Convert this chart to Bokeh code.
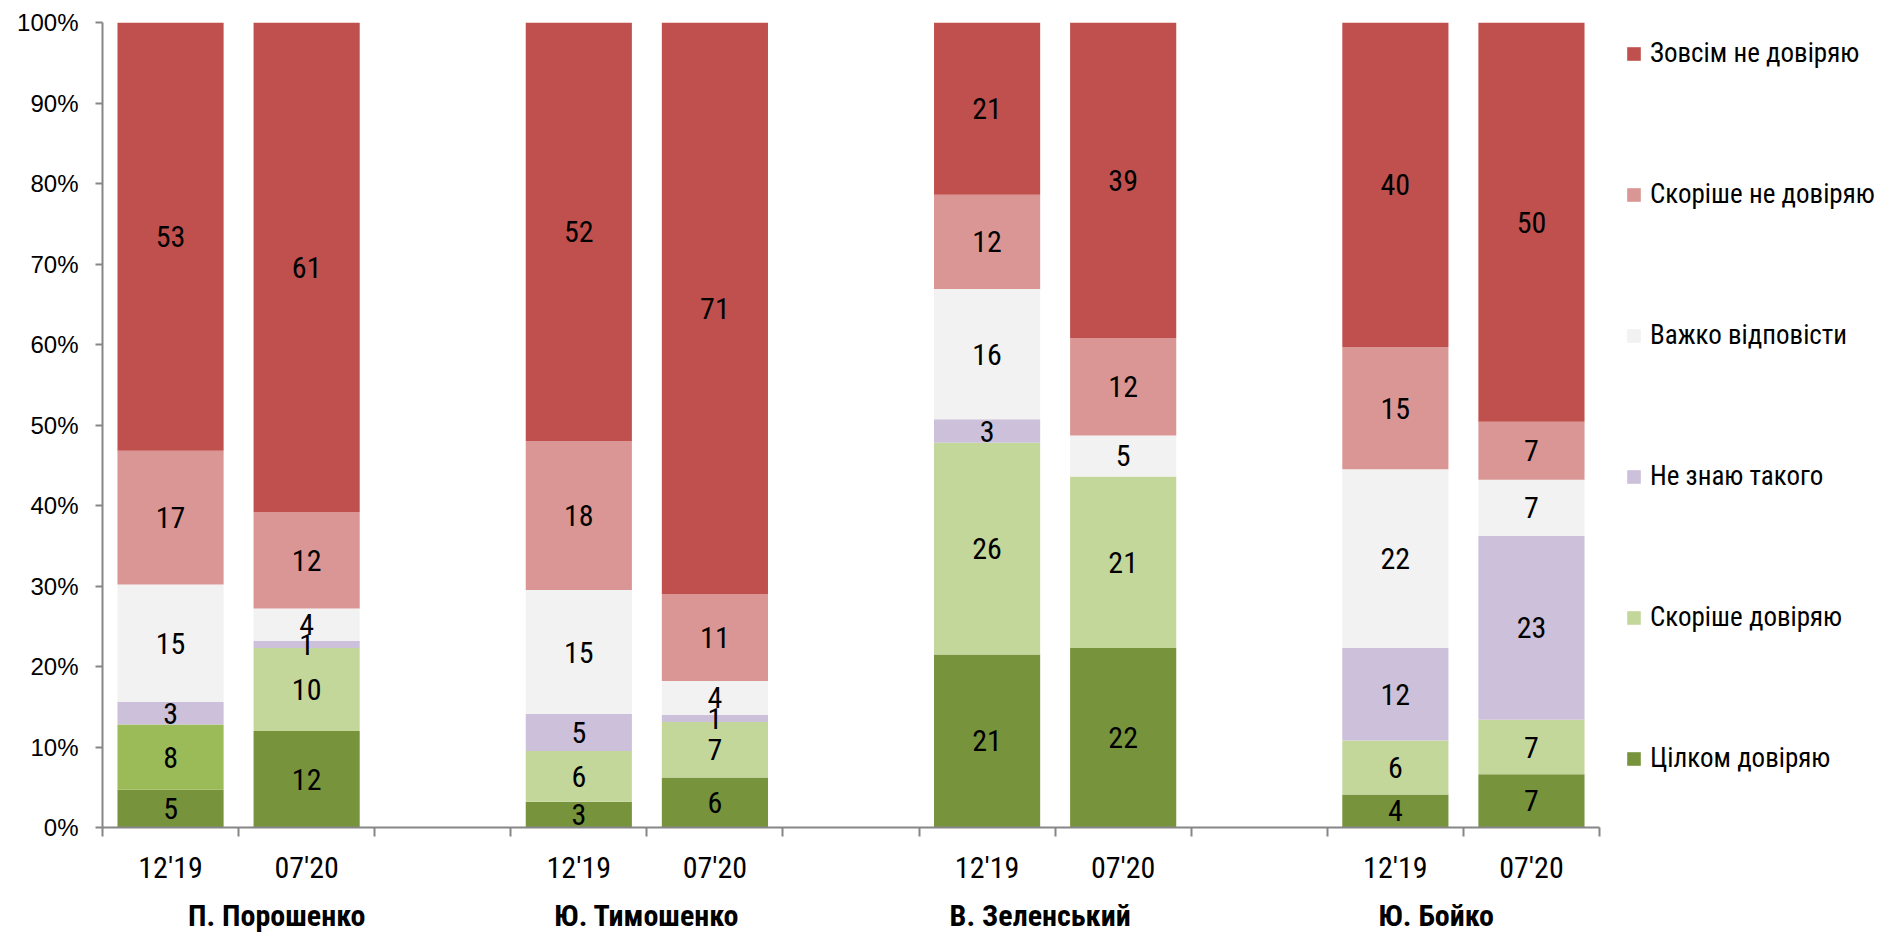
from bokeh.plotting import figure
from bokeh.models import (ColumnDataSource, Range1d, FixedTicker, Legend, LegendItem,
                          LinearAxis, PrintfTickFormatter)
from bokeh.core.properties import value
from bokeh.layouts import row
from bokeh.embed import file_html
from bokeh.resources import INLINE

# ---------------- data ----------------
periods = ["12'19", "07'20"]
politicians = ["П. Порошенко", "Ю. Тимошенко", "В. Зеленський", "Ю. Бойко"]
categories = ["Цілком довіряю", "Скоріше довіряю", "Не знаю такого",
              "Важко відповісти", "Скоріше не довіряю", "Зовсім не довіряю"]

# share of respondents, bars in order: (Порошенко 12'19, 07'20), (Тимошенко ...), (Зеленський ...), (Бойко ...)
fully_trust     = [4.7, 12.0, 3.2, 6.2, 21.5, 22.3, 4.1, 6.6]
rather_trust    = [8.1, 10.3, 6.3, 6.9, 26.3, 21.3, 6.7, 6.8]
dont_know       = [2.8, 0.9, 4.6, 0.9, 2.9, 0.0, 11.5, 22.8]
hard_to_say     = [14.6, 4.0, 15.4, 4.2, 16.2, 5.1, 22.2, 7.0]
rather_distrust = [16.6, 12.0, 18.5, 10.8, 11.7, 12.1, 15.2, 7.2]
fully_distrust  = [53.2, 60.8, 52.0, 71.0, 21.4, 39.2, 40.3, 49.6]

# printed labels
fully_trust_lbl     = [5, 12, 3, 6, 21, 22, 4, 7]
rather_trust_lbl    = [8, 10, 6, 7, 26, 21, 6, 7]
dont_know_lbl       = [3, 1, 5, 1, 3, None, 12, 23]
hard_to_say_lbl     = [15, 4, 15, 4, 16, 5, 22, 7]
rather_distrust_lbl = [17, 12, 18, 11, 12, 12, 15, 7]
fully_distrust_lbl  = [53, 61, 52, 71, 21, 39, 40, 50]

y_ticks = [0, 10, 20, 30, 40, 50, 60, 70, 80, 90, 100]

# ---------------- styles ----------------
series_values = [fully_trust, rather_trust, dont_know, hard_to_say, rather_distrust, fully_distrust]
series_labels = [fully_trust_lbl, rather_trust_lbl, dont_know_lbl, hard_to_say_lbl,
                 rather_distrust_lbl, fully_distrust_lbl]
series_colors = ["#77933C", "#C4D79B", "#CCC0DA", "#F2F2F2", "#DA9694", "#C0504D"]
first_bar_rather_trust_color = "#9BBB59"

NARROW = "Roboto Condensed"
REGULAR = "Liberation Sans"
AXIS_GREY = "#868686"

n_groups = len(politicians)
slots_per_group = 3
n_slots = n_groups * slots_per_group - 1
bar_x = [g * slots_per_group + k + 0.5 for g in range(n_groups) for k in range(len(periods))]
bar_period = [periods[k] for g in range(n_groups) for k in range(len(periods))]

p = figure(width=1609, height=935, output_backend="svg", toolbar_location=None,
           x_range=Range1d(0, n_slots), y_range=Range1d(0, 100),
           min_border_left=102, min_border_right=10, min_border_top=22, min_border_bottom=107)
p.outline_line_color = None
p.xgrid.visible = False
p.ygrid.visible = False

renderers = []
lbl_x, lbl_y, lbl_t = [], [], []
bottoms = [0.0] * len(bar_x)
for i, (vals, lbls, col) in enumerate(zip(series_values, series_labels, series_colors)):
    tops = [b + v for b, v in zip(bottoms, vals)]
    colors = [col] * len(bar_x)
    if i == 1:
        colors[0] = first_bar_rather_trust_color
    src = ColumnDataSource(dict(x=bar_x, bottom=bottoms, top=tops, color=colors))
    r = p.vbar(x="x", bottom="bottom", top="top", width=0.78, fill_color="color",
               line_color=None, source=src)
    renderers.append(r)
    for x, b, t, l in zip(bar_x, bottoms, tops, lbls):
        if l is not None:
            lbl_x.append(x)
            lbl_y.append((b + t) / 2)
            lbl_t.append(str(l))
    bottoms = tops

p.text(x=lbl_x, y=lbl_y, text=lbl_t, text_align="center", text_baseline="middle",
       text_font=value(NARROW), text_font_size="30px", text_color="black")

# x axis (periods)
xa = p.xaxis[0]
xa.ticker = FixedTicker(ticks=bar_x, minor_ticks=list(range(n_slots + 1)))
xa.major_label_overrides = {x: lab for x, lab in zip(bar_x, bar_period)}
xa.major_tick_out = 0
xa.major_tick_in = 0
xa.minor_tick_out = 9
xa.minor_tick_in = 0
xa.minor_tick_line_color = AXIS_GREY
xa.minor_tick_line_width = 2
xa.axis_line_color = AXIS_GREY
xa.axis_line_width = 2
xa.major_label_text_font = NARROW
xa.major_label_text_font_size = "30px"
xa.major_label_text_color = "black"
xa.major_label_standoff = 13

# second x axis (politicians)
group_label_x = [1.28, 4.0, 6.89, 9.8]
xa2 = LinearAxis(ticker=FixedTicker(ticks=group_label_x),
                 major_label_overrides={x: n for x, n in zip(group_label_x, politicians)},
                 axis_line_color=None, major_tick_line_color=None, minor_tick_line_color=None,
                 major_tick_out=0, major_tick_in=0, minor_tick_out=0, minor_tick_in=0,
                 major_label_standoff=10, major_label_text_font=NARROW,
                 major_label_text_font_size="30px", major_label_text_font_style="bold",
                 major_label_text_color="black")
p.add_layout(xa2, "below")

# y axis
ya = p.yaxis[0]
ya.ticker = FixedTicker(ticks=y_ticks)
ya.formatter = PrintfTickFormatter(format="%d%%")
ya.major_tick_out = 7
ya.major_tick_in = 0
ya.minor_tick_out = 0
ya.minor_tick_in = 0
ya.major_tick_line_color = AXIS_GREY
ya.major_tick_line_width = 2
ya.axis_line_color = AXIS_GREY
ya.axis_line_width = 2
ya.major_label_text_font = REGULAR
ya.major_label_text_font_size = "24px"
ya.major_label_text_color = "black"
ya.major_label_standoff = 17

# legend (separate panel on the right); swatch renderers are zero-height placeholders
q = figure(width=275, height=935, output_backend="svg", toolbar_location=None,
           x_range=Range1d(0, 1), y_range=Range1d(0, 1),
           x_axis_type=None, y_axis_type=None, min_border=0)
q.outline_line_color = None
q.xgrid.visible = False
q.ygrid.visible = False
legend_renderers = [q.vbar(x=[0.5], bottom=[0], top=[0], width=0.5, fill_color=c, line_color=None)
                    for c in series_colors]
items = [LegendItem(label=cat, renderers=[r])
         for cat, r in zip(categories, legend_renderers)][::-1]
legend = Legend(items=items, location=(16, 49), orientation="vertical",
                glyph_width=17, glyph_height=17, label_height=40, spacing=101,
                label_standoff=8, padding=0, margin=0,
                label_text_font=NARROW, label_text_font_size="27px",
                label_text_color="black", border_line_color=None,
                background_fill_alpha=0)
q.add_layout(legend)

layout = row(p, q, spacing=0)
open("out.html", "w").write(file_html(layout, INLINE))
